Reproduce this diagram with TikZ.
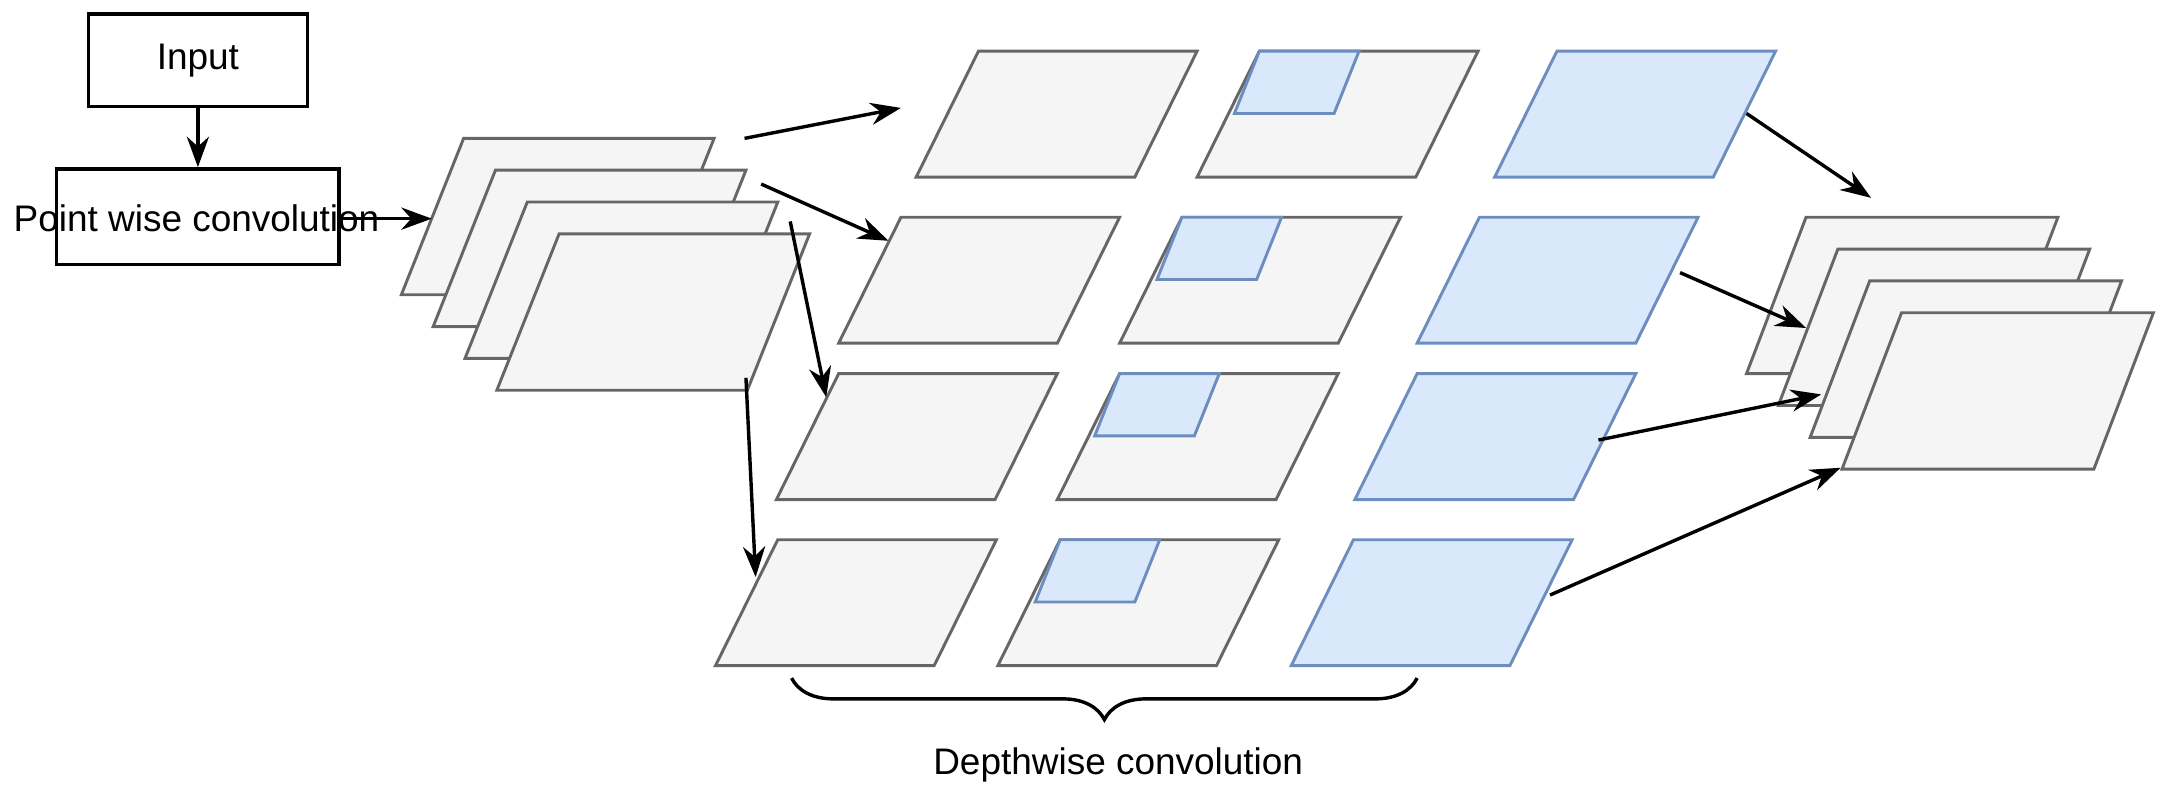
\documentclass[tikz,border=0pt]{standalone}
\usepackage{fontspec}
\setmainfont{Liberation Sans}
\usetikzlibrary{arrows.meta, decorations.pathreplacing}
\definecolor{grayfill}{HTML}{F5F5F5}
\definecolor{grayline}{HTML}{666666}
\definecolor{bluefill}{HTML}{DAE8FC}
\definecolor{blueline}{HTML}{6C8EBF}
\tikzset{
  gray map/.style={fill=grayfill, draw=grayline, line width=0.6pt},
  blue map/.style={fill=bluefill, draw=blueline, line width=0.6pt},
  box/.style={draw, line width=0.7pt, minimum width=15.8mm, minimum height=6.7mm},
  flow/.style={line width=0.7pt, -{Stealth[length=2.2mm, width=1.6mm]}}
}
% parallelogram: top-left x, top y, width, height, skew, style
\newcommand{\featmap}[6]{\draw[#6] (#1,#2) -- ++(#3,0) -- ++(-#5,#4) -- ++(-#3,0) -- cycle;}
\begin{document}
\begin{tikzpicture}[x=0.1mm, y=-0.1mm, font=\fontsize{7.6}{9}\selectfont]
  \useasboundingbox (0,0) rectangle (1568,578);

  % input and pointwise step
  \node[box] (input) at (143,43.5) {Input};
  \node[box, minimum width=20.4mm, minimum height=6.9mm] (pw) at (143,156.5) {};
  \node (pwtext) at (142,158) {Point wise convolution};
  \draw[flow] (input.south) -- (pw.north);

  % stack after pointwise convolution
  \foreach \i in {0,...,3}{
    \featmap{335+23*\i}{100+23*\i}{181}{113}{45}{gray map}
  }
  \coordinate (stackin) at (312,158);
  \draw[flow] (pw.east |- pwtext) -- (stackin);

  % depthwise rows
  \foreach \x/\y/\xa/\xb in {707/37/910/1125, 651/157/854/1069, 606/270/809/1024, 562/390/766/978}{
    \featmap{\x}{\y}{158}{91}{45}{gray map}
    \featmap{\xa}{\y}{158}{91}{45}{gray map}
    \featmap{\xa}{\y}{72}{45}{18}{blue map}
    \featmap{\xb}{\y}{158}{91}{45}{blue map}
  }

  % output stack
  \foreach \i in {0,...,3}{
    \featmap{1305+23*\i}{157+23*\i}{182}{113}{43}{gray map}
  }

  % connectors
  \coordinate (s1) at (538,100);  \coordinate (r1) at (651,78);
  \coordinate (s2) at (550,133);  \coordinate (r2) at (642,174);
  \coordinate (s3) at (571,160);  \coordinate (r3) at (597,287);
  \coordinate (s4) at (539,273);  \coordinate (r4) at (546,417);
  \draw[flow] (s1) -- (r1);
  \draw[flow] (s2) -- (r2);
  \draw[flow] (s3) -- (r3);
  \draw[flow] (s4) -- (r4);

  \coordinate (d1) at (1262,82);  \coordinate (o1) at (1352,143);
  \coordinate (d2) at (1214,197); \coordinate (o2) at (1305,237);
  \coordinate (d3) at (1155,318); \coordinate (o3) at (1316,285);
  \coordinate (d4) at (1120,430); \coordinate (o4) at (1330,338);
  \draw[flow] (d1) -- (o1);
  \draw[flow] (d2) -- (o2);
  \draw[flow] (d3) -- (o3);
  \draw[flow] (d4) -- (o4);

  % brace
  \coordinate (bl) at (572,490);
  \coordinate (br) at (1024,490);
  \draw[line width=0.7pt, decorate, decoration={brace, mirror, amplitude=3mm}] (bl) -- (br);
  \node (dw) at (808,553) {Depthwise convolution};
\end{tikzpicture}
\end{document}
